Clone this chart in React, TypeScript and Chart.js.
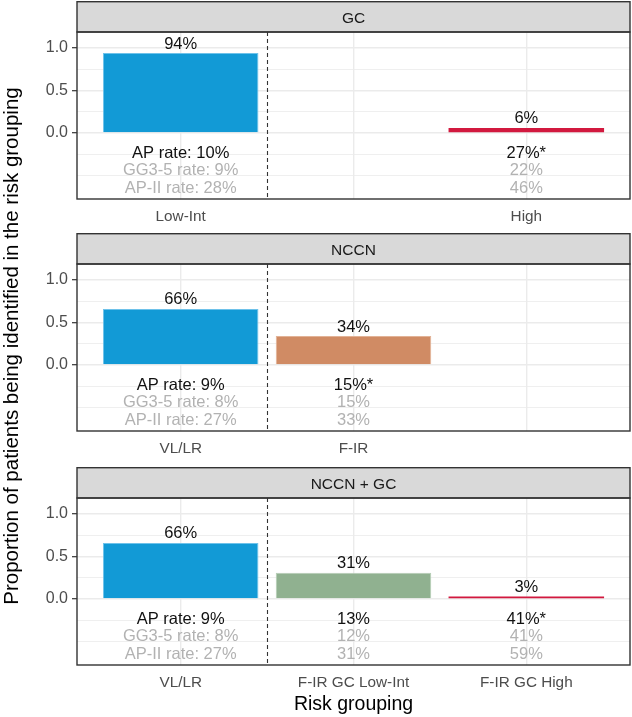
import React, { useEffect, useRef } from 'react';
import { Chart, registerables } from 'chart.js';

Chart.register(...registerables);

// ---------- data ----------
const panelTitles = ['GC', 'NCCN', 'NCCN + GC'];

const gcCategories = ['Low-Int', '', 'High'];
const gcValues = [0.94, null, 0.06];
const gcApRate = ['AP rate: 10%', '', '27%*'];
const gcGg35Rate = ['GG3-5 rate: 9%', '', '22%'];
const gcApIIRate = ['AP-II rate: 28%', '', '46%'];

const nccnCategories = ['VL/LR', 'F-IR', ''];
const nccnValues = [0.66, 0.34, null];
const nccnApRate = ['AP rate: 9%', '15%*', ''];
const nccnGg35Rate = ['GG3-5 rate: 8%', '15%', ''];
const nccnApIIRate = ['AP-II rate: 27%', '33%', ''];

const comboCategories = ['VL/LR', 'F-IR GC Low-Int', 'F-IR GC High'];
const comboValues = [0.66, 0.31, 0.03];
const comboApRate = ['AP rate: 9%', '13%', '41%*'];
const comboGg35Rate = ['GG3-5 rate: 8%', '12%', '41%'];
const comboApIIRate = ['AP-II rate: 27%', '31%', '59%'];

const yTickValues = [-0.5, -0.25, 0, 0.25, 0.5, 0.75, 1.0];
const yMajorTicks = [0, 0.5, 1.0];
const xTitle = 'Risk grouping';
const yTitle = 'Proportion of patients being identified in the risk grouping';

// ---------- styles ----------
const FONT = "'Liberation Sans', Arial, Helvetica, sans-serif";
const FILL: Record<string, string> = {
  'Low-Int': '#129AD6',
  'VL/LR': '#129AD6',
  'F-IR': '#D08B64',
  'F-IR GC Low-Int': '#90B190',
  'High': '#D2193F',
  'F-IR GC High': '#D2193F',
};
const EDGE: Record<string, string> = {
  'Low-Int': '#6EC2EA',
  'VL/LR': '#6EC2EA',
  'F-IR': '#E2B296',
  'F-IR GC Low-Int': '#B5CDB5',
};
const STRIP_H = 31;
const PLOT_H = 167;
const Y_AXIS_W = 77;
const ROW_BASELINES = [-0.29, -0.495, -0.7];
const ROW_COLORS = ['#111111', '#B2B2B2', '#B2B2B2'];
const DIVIDER_X = 1.5;

type PanelProps = {
  title: string;
  categories: string[];
  values: (number | null)[];
  rows: string[][];
  top: number;
  height: number;
  showXTitle?: boolean;
};

function Panel(p: PanelProps) {
  const ref = useRef<HTMLCanvasElement>(null);
  useEffect(() => {
    const canvas = ref.current!;
    const plugin = {
      id: 'facet',
      beforeDatasetsDraw(chart: any) {
        const { ctx, chartArea: a, scales } = chart;
        const px = Math.round(scales.x.getPixelForValue(DIVIDER_X)) + 0.5;
        ctx.save();
        ctx.strokeStyle = '#333333';
        ctx.lineWidth = 1.1;
        ctx.setLineDash([4, 3]);
        ctx.beginPath();
        ctx.moveTo(px, a.top);
        ctx.lineTo(px, a.bottom);
        ctx.stroke();
        ctx.restore();
      },
      afterDatasetsDraw(chart: any) {
        const { ctx, scales } = chart;
        const xs = scales.x;
        const ys = scales.y;
        ctx.save();
        ctx.textAlign = 'center';
        ctx.textBaseline = 'alphabetic';
        ctx.font = `16.5px ${FONT}`;
        p.values.forEach((v, i) => {
          if (v == null) return;
          ctx.fillStyle = '#111111';
          ctx.fillText(Math.round(v * 100) + '%', xs.getPixelForValue(i + 1), ys.getPixelForValue(v) - 4.5);
        });
        p.rows.forEach((row, r) => {
          ctx.fillStyle = ROW_COLORS[r];
          row.forEach((t, i) => {
            if (!t) return;
            ctx.fillText(t, xs.getPixelForValue(i + 1), ys.getPixelForValue(ROW_BASELINES[r]));
          });
        });
        ctx.restore();
      },
      afterDraw(chart: any) {
        const { ctx, chartArea: a } = chart;
        ctx.save();
        // strip
        ctx.fillStyle = '#D9D9D9';
        ctx.fillRect(a.left, 0.5, a.right - a.left, a.top - 0.5);
        ctx.strokeStyle = '#333333';
        ctx.lineWidth = 1.4;
        ctx.strokeRect(a.left, 0.7, a.right - a.left, a.top - 0.7);
        ctx.fillStyle = '#1A1A1A';
        ctx.font = `15.5px ${FONT}`;
        ctx.textAlign = 'center';
        ctx.textBaseline = 'alphabetic';
        ctx.fillText(p.title, (a.left + a.right) / 2, a.top / 2 + 6);
        // panel border
        ctx.strokeRect(a.left, a.top, a.right - a.left, a.bottom - a.top);
        if (p.showXTitle) {
          ctx.fillStyle = '#000000';
          ctx.font = `19.5px ${FONT}`;
          ctx.fillText(xTitle, (a.left + a.right) / 2, a.bottom + 45);
        }
        ctx.restore();
      },
    };

    const chart = new Chart(canvas, {
      type: 'bar',
      data: {
        datasets: [
          {
            data: p.categories.map((c, i) => ({ x: i + 1, y: p.values[i] })) as any,
            backgroundColor: p.categories.map((c) => FILL[c] || 'transparent'),
            borderColor: p.categories.map((c) => EDGE[c] || 'transparent'),
            borderWidth: p.categories.map((c) => (EDGE[c] ? 1 : 0)),
            barPercentage: 0.9,
            categoryPercentage: 1,
          },
        ],
      },
      options: {
        animation: false,
        responsive: false,
        maintainAspectRatio: false,
        events: [],
        layout: { padding: { top: STRIP_H, right: 2, left: 0, bottom: 0 } },
        plugins: { legend: { display: false }, tooltip: { enabled: false } },
        scales: {
          x: {
            type: 'linear',
            min: 0.4,
            max: 3.6,
            offset: false,
            afterBuildTicks: (s: any) => {
              s.ticks = [1, 2, 3].map((v) => ({ value: v }));
            },
            afterFit: (s: any) => {
              s.height = p.height - STRIP_H - PLOT_H;
            },
            ticks: {
              autoSkip: false,
              maxRotation: 0,
              padding: 9,
              color: '#4D4D4D',
              font: { family: FONT, size: 15.3 },
              callback: (v: any) => p.categories[Math.round(Number(v)) - 1] ?? '',
            },
            grid: { color: '#EBEBEB', lineWidth: 1.4, drawTicks: false, offset: false },
            border: { display: false },
          },
          y: {
            type: 'linear',
            min: -0.776,
            max: 1.188,
            afterBuildTicks: (s: any) => {
              s.ticks = yTickValues.map((v) => ({ value: v }));
            },
            afterFit: (s: any) => {
              s.width = Y_AXIS_W;
            },
            ticks: {
              padding: 4,
              color: '#4D4D4D',
              font: { family: FONT, size: 16 },
              callback: (v: any) => (yMajorTicks.includes(Number(v)) ? Number(v).toFixed(1) : ''),
            },
            grid: {
              color: '#EBEBEB',
              lineWidth: (ctx: any) => (yMajorTicks.includes(ctx.tick?.value) ? 1.4 : 0.8),
              tickLength: 5,
              tickColor: (ctx: any) => (yMajorTicks.includes(ctx.tick?.value) ? '#333333' : 'rgba(0,0,0,0)'),
              tickWidth: 1.2,
            },
            border: { display: false },
          },
        },
      } as any,
      plugins: [plugin],
    });
    return () => chart.destroy();
  }, []);
  return (
    <canvas
      ref={ref}
      width={632}
      height={p.height}
      style={{ position: 'absolute', left: 0, top: p.top, width: 632, height: p.height }}
    />
  );
}

export default function App() {
  return (
    <div
      style={{
        position: 'fixed',
        left: 0,
        top: 0,
        width: 632,
        height: 717,
        background: '#FFFFFF',
        overflow: 'hidden',
        fontFamily: FONT,
      }}
    >
      <Panel
        title={panelTitles[0]}
        categories={gcCategories}
        values={gcValues}
        rows={[gcApRate, gcGg35Rate, gcApIIRate]}
        top={1}
        height={232}
      />
      <Panel
        title={panelTitles[1]}
        categories={nccnCategories}
        values={nccnValues}
        rows={[nccnApRate, nccnGg35Rate, nccnApIIRate]}
        top={233}
        height={234}
      />
      <Panel
        title={panelTitles[2]}
        categories={comboCategories}
        values={comboValues}
        rows={[comboApRate, comboGg35Rate, comboApIIRate]}
        top={467}
        height={250}
        showXTitle
      />
      <div
        style={{
          position: 'absolute',
          left: 0.6,
          top: 646,
          width: 600,
          textAlign: 'center',
          transform: 'rotate(-90deg)',
          transformOrigin: '0 0',
          whiteSpace: 'nowrap',
          fontSize: 20.5,
          lineHeight: '20px',
          color: '#000000',
        }}
      >
        {yTitle}
      </div>
    </div>
  );
}
